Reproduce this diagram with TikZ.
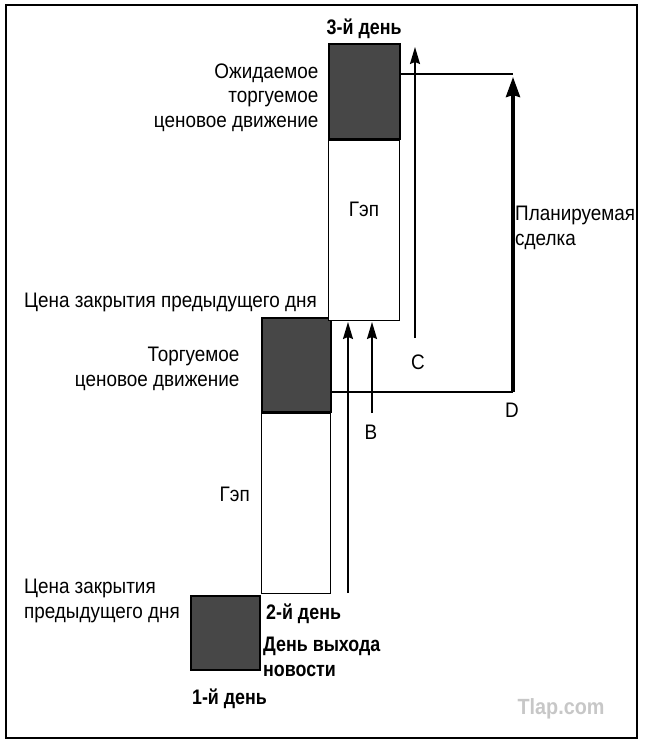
\documentclass[tikz,border=0pt]{standalone}
\usepackage{fontspec}
\setmainfont{Liberation Sans}[FakeStretch=0.9]
\newfontfamily\daybf{Liberation Sans Bold}[FakeStretch=0.85]
\usetikzlibrary{arrows.meta,positioning}

\begin{document}
\begin{tikzpicture}[x=1pt, y=-1pt, >={Stealth[length=17pt,width=10pt,inset=2pt]}, node distance=8pt]

\tikzstyle{dark}=[draw=black, line width=2pt, fill=black!72, inner sep=0pt]
\tikzstyle{gap}=[draw=black, line width=1.3pt, fill=white, inner sep=0pt]
\tikzstyle{lbl}=[font=\fontsize{21}{24.5}\selectfont, inner sep=1pt]
\tikzstyle{daylbl}=[font=\daybf\fontsize{21}{25}\selectfont, inner sep=1pt]
\tikzstyle{move}=[line width=1.5pt, ->]

\useasboundingbox (0,0) rectangle (647,750);
\draw[line width=2pt] (6,5) rectangle (637,738);

% days
\node[dark, minimum width=69, minimum height=74, anchor=north west] (Day1) at (190,595) {};
\node[gap, minimum width=69, minimum height=180, anchor=north west] (Gap2) at (261,413) {};
\node[dark, minimum width=69, minimum height=94, anchor=south] (Move2) at (Gap2.north) {};
\node[gap, minimum width=71, minimum height=180, anchor=north west] (Gap3) at (328,140) {};
\node[dark, minimum width=71, minimum height=95, anchor=south] (Move3) at (Gap3.north) {};

% labels
\node[daylbl, above=3pt of Move3] (Day3Lbl) {3-й день};
\node[lbl, left=8pt of Move3, align=right, yshift=-6] (ExpMove) {Ожидаемое\\торгуемое\\ценовое движение};
\node[lbl] (Gap3Lbl) at (364,209) {Гэп};
\node[lbl, anchor=south east] (Close2) at ([xshift=-10, yshift=8]Gap3.south west) {Цена закрытия предыдущего дня};
\node[lbl, left=20pt of Move2, align=right, yshift=-4] (TradeMove) {Торгуемое\\ценовое движение};
\node[lbl, left=10pt of Gap2, yshift=9] (Gap2Lbl) {Гэп};
\node[lbl, anchor=east, align=left] (Close1) at ([xshift=-9, yshift=-6]Day1.north west) {Цена закрытия\\предыдущего дня};
\node[daylbl, anchor=north west] (Day2Lbl) at ([xshift=4, yshift=-8]Gap2.south west) {2-й день};
\node[daylbl, below=11pt of Day2Lbl.south west, anchor=north west, align=left, xshift=-3] (NewsLbl) {День выхода\\новости};
\node[daylbl, below=17pt of Day1, xshift=4] (Day1Lbl) {1-й день};
\node[lbl, anchor=west, align=left] (PlanLbl) at (514,228) {Планируемая\\сделка};
\node[font=\bfseries\fontsize{22}{24}\selectfont, text=black!22] (Site) at (561,709) {Tlap.com};

% moves
\coordinate (Abot) at (348,593);
\coordinate (Atop) at (348,322);
\coordinate (Bbot) at (372,413);
\coordinate (Btop) at (372,322);
\coordinate (Cbot) at (415,338);
\coordinate (Ctop) at (415,47);
\coordinate (Dcorner) at (513,392);
\coordinate (Dtop) at (513,77);
\coordinate (Tline) at (513,74);

\node[lbl] (BLbl) at (371,432) {B};
\node[lbl] (CLbl) at (418,362) {C};
\node[lbl] (DLbl) at (512,410) {D};

\draw[line width=1.2pt] (Move3.east |- Tline) -- (Tline);
\draw[line width=1.2pt] (Move2.east |- Dcorner) -- (Dcorner);
\path
(Abot) edge[move] (Atop)
(Bbot) edge[move] (Btop)
(Cbot) edge[move] (Ctop)
(Dcorner) edge[->, line width=3.5pt, >={Stealth[length=20pt,width=14pt,inset=2pt]}] (Dtop);
\end{tikzpicture}
\end{document}
